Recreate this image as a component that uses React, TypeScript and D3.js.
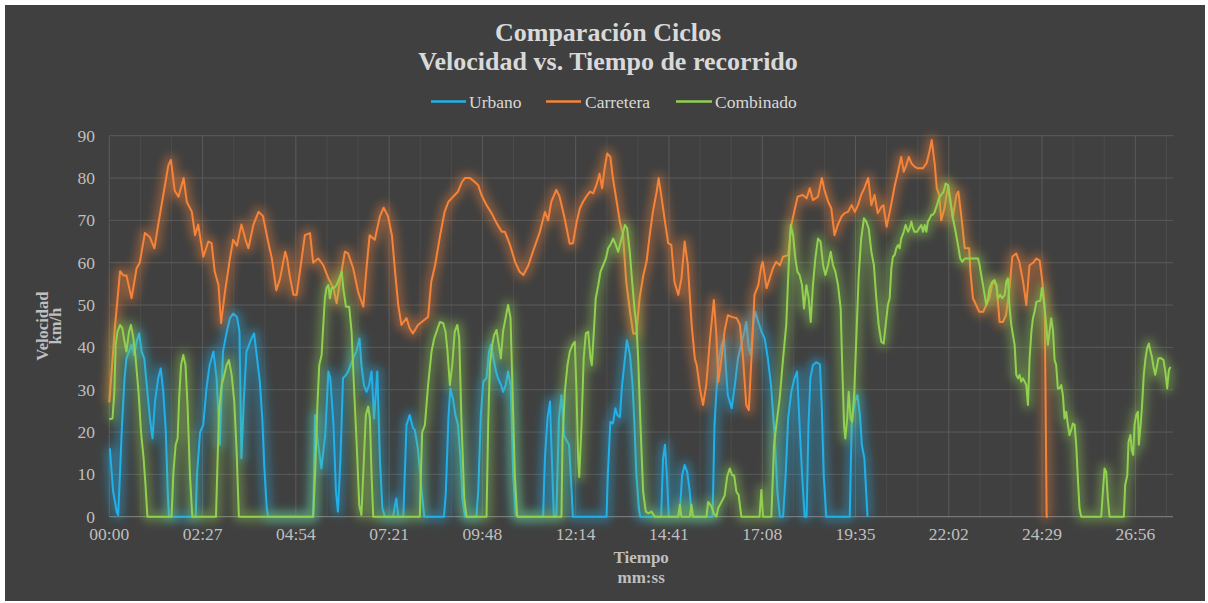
import React from 'react';
import * as d3 from 'd3';

const W = 1208;
const H = 603;

const titleLines = ['Comparación Ciclos', 'Velocidad vs. Tiempo de recorrido'];
const seriesNames = ['Urbano', 'Carretera', 'Combinado'];
const seriesColors = ['#22b0e8', '#f5843a', '#92d050'];
const yTicks = [0, 10, 20, 30, 40, 50, 60, 70, 80, 90];
const xTickLabels = ['00:00', '02:27', '04:54', '07:21', '09:48', '12:14', '14:41', '17:08', '19:35', '22:02', '24:29', '26:56'];
const X_TICK_STEP = 146.88; // seconds (0.0017 days)
const X_MAX = 1675;
const Y_MAX = 90;

// [time in seconds, km/h]
const urbano: [number, number][] = [
  [0, 16], [1, 16], [6, 6], [12, 1], [14, 0.4], [20, 21.7], [24, 32.7], [27, 37.4], [31, 39], [35, 40.6], [39, 38.2], [43, 41.3], [47, 43.3], [51, 39], [55, 37.4], [59, 31.1], [64, 23.2], [68, 18.5], [72, 27.2], [77, 32.7], [81, 35], [85, 29.5], [89, 20.1], [92, 5.9], [94, 0],
  [136, 0], [138, 9.8], [143, 20], [148, 21.7], [153, 30.3], [158, 35.8], [164, 39], [169, 32.7], [174, 17], [179, 39], [185, 43.7], [190, 46.9], [195, 48], [201, 47.2], [205, 43.7], [208, 13.8], [212, 28], [216, 39], [220, 40.6], [224, 42.1], [228, 43.3], [232, 38.2], [237, 31.9], [241, 23], [244, 12], [248, 2], [250, 0],
  [321, 0], [324, 24], [329, 17], [334, 11.4], [340, 19.3], [345, 34.3], [348, 32.7], [353, 21.7], [357, 5.9], [360, 1.2], [364, 13.8], [368, 32.7], [373, 33.5], [376, 34.3], [380, 35.8], [384, 37.4], [389, 39], [394, 42.1], [397, 35.8], [401, 31.1], [405, 29.5], [409, 31.1], [413, 34.3], [417, 23.2], [422, 34.3], [426, 13.8], [430, 2], [434, 0],
  [447, 0], [450, 2.8], [452, 4.3], [455, 0], [463, 0], [468, 21.7], [473, 24], [478, 21], [481, 20.5], [486, 16], [492, 5.9], [496, 0],
  [527, 0], [530, 5.9], [534, 23.2], [537, 30.3], [541, 28], [545, 24], [549, 21.7], [553, 13.8], [556, 4.3], [560, 0],
  [578, 0], [581, 5.9], [585, 24], [589, 31.9], [594, 32.7], [598, 39], [601, 40.6], [605, 37.4], [609, 34.3], [612, 32.7], [617, 31.1], [620, 29.5], [624, 31], [628, 34.3], [632, 31], [636, 9.8], [640, 0.4], [644, 0],
  [683, 0], [686, 13.8], [690, 23.2], [694, 27.2], [696, 17.7], [700, 0], [704, 0.4], [708, 23.2], [712, 28.7], [716, 19.3], [720, 18], [724, 17], [728, 6], [730, 0],
  [783, 0], [785, 9.8], [789, 22.4], [793, 22], [797, 25.6], [800, 24], [804, 23.5], [807, 30.3], [812, 37.4], [815, 41.7], [820, 38.2], [824, 31.1], [827, 21.7], [830, 9.8], [834, 2], [836, 0],
  [869, 0], [872, 13.8], [875, 17], [878, 9.8], [881, 0], [898, 0], [902, 9.8], [906, 12.2], [910, 10.6], [914, 5.9], [917, 0],
  [950, 0], [953, 21.7], [956, 29.5], [960, 37.4], [964, 40.6], [968, 42], [971, 35], [974, 28.7], [980, 25.6], [985, 31.1], [990, 37.4], [995, 40.6], [1000, 43.7], [1003, 46], [1007, 39.8], [1010, 38.2], [1014, 45.3], [1017, 48.4], [1022, 46], [1027, 43.7], [1032, 42.1], [1037, 37.4], [1042, 31.1], [1048, 18.5], [1052, 5.9], [1056, 0],
  [1061, 0], [1065, 9.8], [1069, 23.2], [1074, 29.5], [1079, 32.7], [1083, 34.3], [1087, 21.7], [1091, 9.8], [1095, 0], [1098, 0], [1101, 21.7], [1104, 32.7], [1108, 35.8], [1113, 36.5], [1119, 36], [1122, 25.6], [1125, 9.8], [1129, 0],
  [1166, 0], [1169, 21.7], [1174, 27.2], [1178, 28.7], [1182, 24], [1185, 17], [1189, 13.8], [1194, 0],
];

const carretera: [number, number][] = [
  [0, 27], [9, 45], [17, 58], [22, 57], [27, 57], [35, 51.6], [43, 58.7], [48, 60], [56, 67], [64, 66], [71, 63.4], [77, 69], [85, 76], [93, 83], [97, 84.3], [103, 77], [109, 75.6], [117, 80], [122, 74.4], [130, 72], [135, 66.5], [140, 69], [148, 61.4], [156, 65], [161, 64.6], [166, 57.9], [172, 54.7], [176, 45.7], [182, 53], [190, 61], [195, 65.4], [201, 64], [208, 69], [214, 65.7], [219, 63.4], [227, 69], [235, 72], [242, 71],
  [250, 65], [256, 61], [263, 53.5], [269, 56.3], [277, 62.6], [280, 61], [284, 57], [290, 52.4], [295, 52.4], [303, 61], [308, 66.5], [316, 67], [321, 60], [329, 61], [337, 59.4], [345, 56.3], [353, 54], [358, 50.4], [363, 55.5], [371, 62.6], [376, 62.2], [384, 58.7], [392, 53], [400, 49.6], [405, 58.7], [410, 66.5], [418, 65.4], [426, 70.9], [432, 73], [439, 70.9], [445, 66.5], [450, 57.9], [455, 50], [460, 45.3], [468, 46.9], [473, 44.5], [478, 43.3], [486, 45.3],
  [492, 46], [502, 47.2], [507, 55.5], [513, 59.4], [521, 66.5], [528, 72], [534, 74.4], [539, 75.2], [544, 76], [549, 76.8], [555, 79], [560, 80], [568, 80], [576, 79], [581, 78.3], [586, 76], [594, 73.6], [602, 71.7], [610, 69.3], [618, 67.3], [623, 67.3], [631, 64.2], [639, 60.2], [646, 57.9], [652, 57.1], [660, 59.4], [667, 62.6], [678, 67.3], [686, 72], [691, 70], [696, 74.4], [704, 77.2], [709, 75.6], [717, 70.5], [725, 64.5], [730, 64.6],
  [736, 69.7], [741, 72.8], [746, 74.4], [751, 75.6], [757, 76.8], [762, 76.4], [767, 78.3], [772, 81], [776, 77.6], [780, 82.3], [784, 85.8], [789, 85], [793, 80], [799, 74.4], [804, 69.7], [809, 66.5], [814, 55.5], [820, 48.4], [825, 43.3], [830, 43.3], [835, 51.6], [841, 57.1], [846, 60.2], [851, 66.5], [856, 72], [862, 76.8], [865, 80], [869, 76], [875, 69.7], [880, 64.6], [885, 64.2], [890, 55.5], [896, 52.4], [901, 56.3], [906, 65], [911, 59.4], [917, 45.3], [922, 37.4], [925, 35.8], [930, 30.3], [935, 26.4], [940, 31.1], [946, 42.1], [952, 51.2], [956, 42.9], [959, 31.9], [964, 37.4], [969, 44],
  [974, 47.6], [980, 47.2], [988, 46.9], [993, 45.3], [998, 37.4], [1003, 26.4], [1007, 25.2], [1011, 37], [1016, 52.4], [1022, 54.7], [1027, 59.4], [1029, 60.2], [1035, 54], [1040, 56.3], [1045, 58.7], [1050, 60.2], [1056, 59.4], [1061, 61.4], [1069, 61.8], [1074, 68.9], [1079, 72.4], [1084, 75.6], [1092, 76], [1098, 75.2], [1103, 77.6], [1108, 74.8], [1116, 75.6], [1122, 80], [1126, 77.2], [1132, 74.4], [1137, 72.8], [1142, 66.5], [1147, 68.9], [1153, 70.9], [1158, 71.7], [1163, 72], [1169, 73.6], [1174, 72], [1179, 73.6], [1184, 76], [1189, 77.6], [1195, 80], [1200, 73.6], [1205, 76], [1210, 71.7], [1216, 73.2],
  [1219, 73.6], [1224, 68.5], [1229, 72], [1237, 78.3], [1242, 81.5], [1247, 85], [1251, 81.5], [1255, 83], [1259, 85], [1263, 83.5], [1268, 82.7], [1273, 82.3], [1281, 82.3], [1287, 83.5], [1292, 86.6], [1295, 89], [1300, 83], [1303, 77.6], [1307, 76], [1310, 70], [1315, 72.8], [1321, 78.3], [1325, 74.4], [1328, 70.5], [1334, 76], [1337, 76.8], [1342, 70.5], [1347, 63.4], [1354, 63.4], [1356, 57.9], [1360, 51.6], [1365, 50], [1370, 48.4], [1376, 48.4], [1381, 50], [1386, 51.6], [1391, 55.5], [1397, 54.7], [1402, 46], [1407, 46], [1412, 47.6], [1418, 54.7], [1422, 61.4], [1428, 62.2], [1433, 60.2], [1439, 55.5], [1444, 50], [1449, 59.4], [1455, 60], [1460, 61], [1465, 60.5], [1469, 55.9], [1473, 49.6], [1476, 0], [1478, 0],
];

const combinado: [number, number][] = [
  [0, 23], [5, 23.2], [8, 29.5], [10, 40.6], [13, 43.7], [17, 45.3], [20.5, 44.5], [24, 41.3], [27, 39], [31, 43.7], [34, 45.3], [38, 42.1], [41.5, 37.4], [46, 29.5], [50, 20], [54, 13.8], [57, 7.5], [60, 0],
  [98, 0], [101, 10.6], [104.5, 17], [107.6, 18.5], [110, 28], [113, 35.8], [116.5, 38.2], [120, 35.8], [123.4, 25.6], [127, 9.8], [130.7, 0],
  [168, 0], [170.6, 13.8], [173, 25.6], [177, 31.1], [181, 33.5], [184.7, 35.8], [188.4, 37], [192.6, 33.5], [196.8, 27.2], [200.5, 15.4], [204, 0],
  [321, 0], [324, 9.8], [327.5, 25.6], [330.6, 35.8], [334.3, 38.2], [337, 45.3], [339.5, 51.6], [342, 54], [345, 54.7], [347.4, 51.6], [350, 54], [353.7, 54], [358, 54.7], [362, 56.3], [366, 57.9], [368.4, 54], [372.6, 49.6], [377.8, 49.6], [381.5, 43.7], [385.2, 31.1], [389.4, 17.7], [393.6, 2.8], [397, 0.4], [401, 13.8], [404, 24], [407.7, 26], [410.4, 23.2], [413, 9.8], [415.6, 0],
  [489, 0], [490.6, 9.8], [492.7, 20], [497, 21.7], [502, 31.1], [507.4, 39], [511.6, 42.1], [515.3, 43.7], [520.6, 46], [525.8, 45.7], [529.5, 43.7], [532.6, 39], [536.3, 31.1], [540, 35.8], [544, 43.7], [548, 45.3], [551, 42.1], [554.7, 21.7], [559, 4.3], [562.5, 0],
  [594, 0], [596.6, 21.7], [599.3, 35.8], [603, 40.6], [606, 42.9], [609.7, 44.1], [613.4, 40.6], [616.6, 37.4], [620, 43.7], [624, 46.9], [628, 50], [631.8, 46.9], [635, 29.5], [638.6, 9.8], [642.3, 0],
  [712, 0], [713.6, 17.7], [717.3, 29.5], [721.5, 35.8], [725.2, 39], [729.4, 40.6], [733, 41.3], [735.7, 29.5], [738.3, 13.8], [740, 9.4], [743.6, 21.7], [747, 37.4], [750.4, 43.3], [754, 43.7], [757.7, 37.4], [759.8, 35.8], [763, 43.7], [766, 51.6], [770, 54.7], [773.5, 57.9], [777.7, 59.4], [782, 61], [785.5, 63.4], [789, 64.2], [793.4, 65.7], [797.6, 64.2], [801.3, 62.6], [804, 64.2], [808, 66.5], [811.8, 68.9], [815.4, 68.1], [819.6, 62.6], [823.3, 55.5], [827.5, 48.4], [830, 45.3], [832.8, 37.4], [836.4, 21.7], [840.6, 5.9], [844.8, 1.2], [848.5, 0.8], [853.8, 1.2], [859, 0],
  [895.7, 0], [898.4, 2.8], [901, 0], [914, 0], [916.7, 2.8], [919.3, 0], [940.3, 0], [943, 3.5], [948, 2.5], [952, 0.8], [956, 0], [958.7, 2], [964, 3.5], [969, 5], [973, 9.5], [977, 11.4], [980.6, 9.8], [983.8, 9.8], [987.5, 5.9], [991, 5.1], [995.3, 0],
  [1024, 0], [1026.8, 6.3], [1029.4, 0], [1042.5, 0], [1046.8, 17], [1050.4, 21.7], [1055.7, 28], [1061, 37.4], [1066, 45.3], [1069.8, 59.4], [1073, 68.9], [1076.7, 66.5], [1080.3, 61], [1083.5, 57.9], [1087, 57.1], [1090.8, 54.7], [1094, 49.2], [1097.7, 54.7], [1101.3, 51.6], [1104.5, 46], [1108, 54.7], [1111.8, 61], [1116, 65.7], [1120, 65], [1124, 59.4], [1127.6, 57.1], [1131.8, 59.4], [1136, 62.6], [1139.6, 59.4], [1143.3, 57.9], [1147.5, 54.7], [1151.7, 49.2], [1153.8, 37.4], [1157, 21.7], [1159, 18.5], [1162, 23.2], [1164.3, 29.5], [1167.4, 23.2], [1169.5, 22.4], [1172.7, 28], [1176.4, 42.5], [1180, 56.7], [1184, 65.7], [1188.4, 70.5], [1192, 69.7], [1195.8, 68.1], [1200, 62.6], [1204, 59.4], [1207.8, 51.6], [1211.5, 45.3], [1215.7, 41.3], [1219.4, 40.9],
  [1222.5, 45.3], [1226, 50], [1228.8, 51.6], [1231.5, 58.7], [1234, 61.4], [1236.7, 61.8], [1239.3, 63.4], [1242, 64.2], [1244.6, 63.4], [1247, 65.7], [1251, 67.3], [1254, 68.9], [1257.7, 67.3], [1260.3, 68.1], [1263, 69.7], [1265.6, 68.1], [1268, 67.3], [1272, 67.3], [1275, 68.1], [1278.7, 68.9], [1281.3, 67.3], [1284, 68.9], [1286.6, 67.3], [1289, 69.7], [1292, 70.5], [1294.4, 71.3], [1297, 71.3], [1299.7, 72], [1303.3, 73.6], [1306.5, 75.2], [1310, 76], [1313.8, 76.8], [1317, 78.7], [1320.7, 78.3], [1324.3, 74.4], [1328.5, 70.5], [1332.7, 67.3], [1336.4, 64.2], [1340, 61], [1343.2, 60.2], [1347, 61], [1368, 61],
  [1370.5, 59.4], [1373, 57.1], [1375.8, 54.7], [1378.4, 52.4], [1381, 50], [1383.6, 51.6], [1386.3, 54], [1390.5, 55.5], [1394, 55.9], [1396.8, 54.7], [1399.4, 51.6], [1403, 52.4], [1406, 51.6], [1410, 52.4], [1412.5, 55.5], [1415, 56.3], [1417.7, 49.2], [1420.4, 45.3], [1423, 42.9], [1425.6, 40.6], [1428.2, 33.5], [1431, 32.7], [1433.5, 33.5], [1436, 31.9], [1438.7, 32.7], [1441.4, 31.9], [1444, 31.1], [1446.6, 26.4], [1449.2, 37.4], [1452, 43.7], [1454.5, 46.9], [1457, 48.4], [1460, 50.8], [1466, 51], [1468.5, 54], [1471.7, 50.8], [1475.4, 45.3], [1478, 40.6], [1480.6, 43.7], [1483.2, 46.9], [1486, 44], [1488.5, 37], [1491, 35.8], [1493.7, 30.3], [1496.4, 30.3], [1499, 31.1], [1501.6, 28.7], [1504.2, 23.2], [1506.8, 24.8], [1509.5, 21.7], [1512, 19.3], [1514.7, 20.5], [1517.3, 22], [1520, 21.7], [1522.6, 17], [1525.2, 9], [1527.8, 2], [1530.5, 0],
  [1562, 0], [1564.6, 5.9], [1567.2, 11.4], [1569.8, 10.6], [1572.4, 4.3], [1575, 0],
  [1597.6, 0], [1599.7, 7.5], [1603, 9.8], [1605, 17.7], [1608, 19.3], [1610, 15.7], [1612.3, 14.6], [1614.4, 21.7], [1617, 24], [1619.7, 24.8], [1621.2, 17], [1624, 21.7], [1626, 25.6], [1629, 33.5], [1631.7, 37.4], [1634.3, 39.8], [1637, 40.9], [1639.6, 39], [1641.7, 37.8], [1644.3, 35.4], [1647, 33.5], [1649.6, 35.4], [1652, 37.4], [1656.4, 37.4], [1660, 37], [1663.2, 33.9], [1665.8, 30.3], [1668.5, 34.6], [1671, 35.4],
];

const allSeries = [urbano, carretera, combinado];

const PLOT = { left: 109.3, right: 1173, top: 135.7, bottom: 516.7 };
const SERIF = '"Liberation Serif", "DejaVu Serif", "Times New Roman", serif';

export default function App() {
  const x = d3.scaleLinear().domain([0, X_MAX]).range([PLOT.left, PLOT.right]);
  const y = d3.scaleLinear().domain([0, Y_MAX]).range([PLOT.bottom, PLOT.top]);
  const line = d3.line<[number, number]>().x((d) => x(d[0])).y((d) => y(d[1]));

  const majorTicks = xTickLabels.map((lab, i) => ({ lab, t: i * X_TICK_STEP }));
  const minorTicks: number[] = [];
  for (let t = X_TICK_STEP / 3; t < X_MAX; t += X_TICK_STEP / 3) {
    if (Math.abs(t / X_TICK_STEP - Math.round(t / X_TICK_STEP)) > 0.01) minorTicks.push(t);
  }

  const plotCx = (PLOT.left + PLOT.right) / 2;
  const plotCy = (PLOT.top + PLOT.bottom) / 2;

  const legendItems = [
    { x1: 431, x2: 466, tx: 469 },
    { x1: 546, x2: 581, tx: 585 },
    { x1: 676, x2: 712, tx: 715 },
  ];

  return (
    <svg width={W} height={H} style={{ position: 'absolute', left: 0, top: 0, display: 'block' }}>
      <defs>
        <filter id="glow" filterUnits="userSpaceOnUse" x={0} y={0} width={W} height={H}>
          <feGaussianBlur stdDeviation={5} />
        </filter>
      </defs>
      <rect x={0} y={0} width={W} height={H} fill="#ffffff" />
      <rect x={5} y={5} width={1200} height={596} fill="#404040" />

      {/* minor vertical grid */}
      {minorTicks.map((t, i) => (
        <line key={'mv' + i} x1={x(t)} x2={x(t)} y1={PLOT.top} y2={PLOT.bottom} stroke="#4b4b4b" strokeWidth={1} />
      ))}
      {/* major vertical grid */}
      {majorTicks.map((d, i) => (
        <line key={'v' + i} x1={x(d.t)} x2={x(d.t)} y1={PLOT.top} y2={PLOT.bottom} stroke="#5a5a5a" strokeWidth={1} />
      ))}
      {/* horizontal grid */}
      {yTicks.map((v) => (
        <line key={'h' + v} x1={PLOT.left} x2={PLOT.right} y1={y(v)} y2={y(v)} stroke={v === 0 ? '#858585' : '#5a5a5a'} strokeWidth={1} />
      ))}

      {/* y tick labels */}
      {yTicks.map((v) => (
        <text key={'yl' + v} x={95} y={y(v)} dy="0.35em" textAnchor="end" fontFamily={SERIF} fontSize={17.5} fill="#bfbfbf">
          {v}
        </text>
      ))}
      {/* x tick labels */}
      {majorTicks.map((d, i) => (
        <text key={'xl' + i} x={x(d.t)} y={540} textAnchor="middle" fontFamily={SERIF} fontSize={17.5} fill="#bfbfbf">
          {d.lab}
        </text>
      ))}

      {/* series glows */}
      {allSeries.map((s, i) => (
        <g key={'s' + i}>
          <path d={line(s) || ''} fill="none" stroke={seriesColors[i]} strokeWidth={10} strokeOpacity={0.42} strokeLinejoin="round" filter="url(#glow)" />
          <path d={line(s) || ''} fill="none" stroke={seriesColors[i]} strokeWidth={2} strokeLinejoin="round" />
        </g>
      ))}

      {/* title */}
      {titleLines.map((t, i) => (
        <text key={'t' + i} x={608} y={41 + i * 29} textAnchor="middle" fontFamily={SERIF} fontWeight="bold" fontSize={26} fill="#d9d9d9">
          {t}
        </text>
      ))}

      {/* legend */}
      {seriesNames.map((n, i) => (
        <g key={'lg' + i}>
          <line x1={legendItems[i].x1} x2={legendItems[i].x2} y1={101.5} y2={101.5} stroke={seriesColors[i]} strokeWidth={2.5} />
          <text x={legendItems[i].tx} y={101.5} dy="0.35em" fontFamily={SERIF} fontSize={17.5} fill="#d9d9d9">
            {n}
          </text>
        </g>
      ))}

      {/* axis titles */}
      <text transform={`translate(48,${plotCy}) rotate(-90)`} textAnchor="middle" fontFamily={SERIF} fontWeight="bold" fontSize={16.5} fill="#bfbfbf">
        Velocidad
      </text>
      <text transform={`translate(61,${plotCy}) rotate(-90)`} textAnchor="middle" fontFamily={SERIF} fontWeight="bold" fontSize={16.5} fill="#bfbfbf">
        km/h
      </text>
      <text x={plotCx} y={563} textAnchor="middle" fontFamily={SERIF} fontWeight="bold" fontSize={17} fill="#bfbfbf">
        Tiempo
      </text>
      <text x={plotCx} y={583} textAnchor="middle" fontFamily={SERIF} fontWeight="bold" fontSize={17} fill="#bfbfbf">
        mm:ss
      </text>
    </svg>
  );
}
